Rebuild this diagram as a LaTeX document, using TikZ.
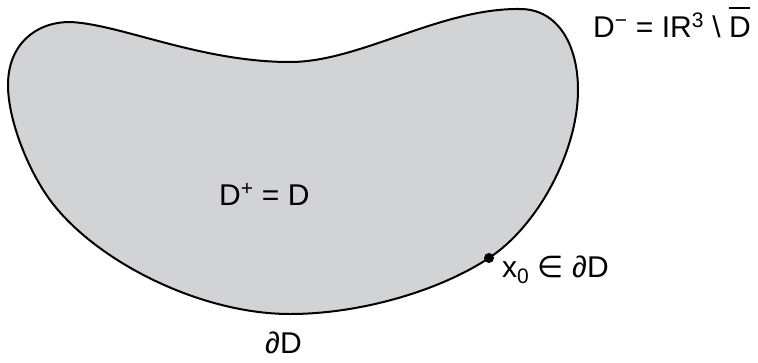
\documentclass[tikz,border=0pt]{standalone}
\usepackage{fontspec}
\setmainfont{Liberation Sans}
\newfontfamily\dvs{DejaVu Sans}
\definecolor{blobgray}{RGB}{209,211,212}
\newcommand{\barD}{\rlap{\raisebox{28pt}{\rule{21pt}{1.6pt}}}D}
\begin{document}
\begin{tikzpicture}[x=1pt,y=-1pt,
  lbl/.style={font=\fontsize{30}{36}\selectfont, inner sep=0pt, anchor=base west},
  boundary/.style={line width=2pt, draw=black, fill=blobgray},
  ptdot/.style={circle, fill=black, inner sep=0pt, minimum size=10pt}]
\useasboundingbox (0,0) rectangle (758,362);
\draw[boundary] (8,85)
  .. controls (8,45) and (35,22) .. (70,22)
  .. controls (120,24) and (200,62) .. (290,62)
  .. controls (360,62) and (440,8) .. (520,9)
  .. controls (558,9) and (578,45) .. (578,90)
  .. controls (578,150) and (539,225) .. (489,258)
  .. controls (439,291) and (360,314) .. (290,314)
  .. controls (200,314) and (95,261) .. (50,200)
  .. controls (28,170) and (8,120) .. (8,85) -- cycle;
\node[ptdot] (x0) at (489,258) {};
\node[lbl] (dplus) at (219,205) {D\textsuperscript{+} = D};
\node[lbl] (bd) at (265,353) {∂D};
\node[lbl] (x0lbl) at (502,277) {x\textsubscript{0} {\dvs ∈} ∂D};
\node[lbl] (dminus) at (593,37) {D\textsuperscript{−} = IR\textsuperscript{3} \textbackslash{} \barD};
\end{tikzpicture}
\end{document}
